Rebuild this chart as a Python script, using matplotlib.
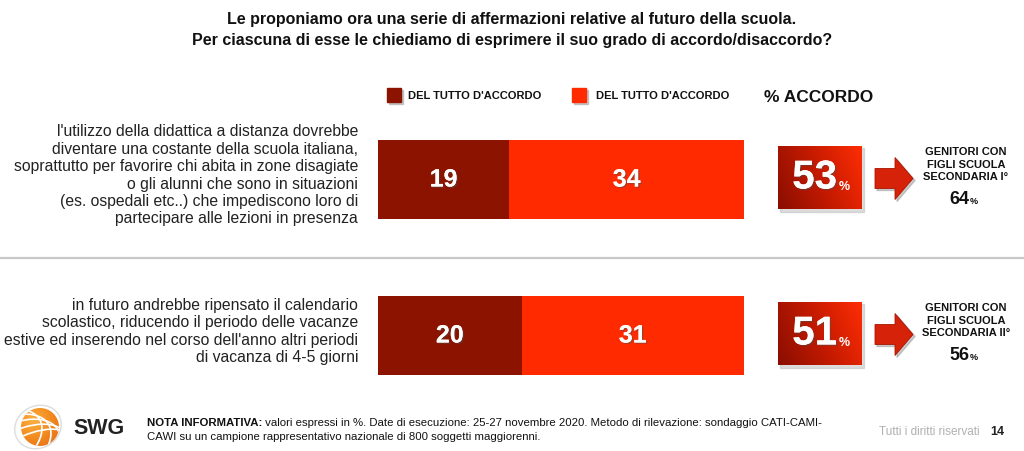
import numpy as np
import matplotlib
matplotlib.use("Agg")
import matplotlib.pyplot as plt
import matplotlib.patheffects as pe
from matplotlib.patches import Rectangle, Polygon, Circle, Ellipse

plt.rcParams['font.family'] = ['Liberation Sans', 'DejaVu Sans']

title = ("Le proponiamo ora una serie di affermazioni relative al futuro della scuola.\n"
         "Per ciascuna di esse le chiediamo di esprimere il suo grado di accordo/disaccordo?")
statements = [
    "l'utilizzo della didattica a distanza dovrebbe\n"
    "diventare una costante della scuola italiana,\n"
    "soprattutto per favorire chi abita in zone disagiate\n"
    "o gli alunni che sono in situazioni\n"
    "(es. ospedali etc..) che impediscono loro di\n"
    "partecipare alle lezioni in presenza",
    "in futuro andrebbe ripensato il calendario\n"
    "scolastico, riducendo il periodo delle vacanze\n"
    "estive ed inserendo nel corso dell'anno altri periodi\n"
    "di vacanza di 4-5 giorni",
]
series_names = ["DEL TUTTO D'ACCORDO", "DEL TUTTO D'ACCORDO"]
totally_agree = np.array([19, 20])
agree = np.array([34, 31])
total_agree = np.array([53, 51])
subgroups = ["GENITORI CON\nFIGLI SCUOLA\nSECONDARIA I°",
             "GENITORI CON\nFIGLI SCUOLA\nSECONDARIA II°"]
subgroup_values = [64, 56]

dark = "#8c1300"
bright = "#ff2a00"

W, H = 1024, 451
fig = plt.figure(figsize=(W / 100, H / 100), dpi=100)
fig.patch.set_facecolor("white")

# background axes in pixel units (y downwards)
bg = fig.add_axes([0, 0, 1, 1])
bg.set_xlim(0, W)
bg.set_ylim(H, 0)
bg.axis("off")

# bars axes
x0, x1 = 378, 744
ytop, ybot = 101.5, 413.5
ax = fig.add_axes([x0 / W, 1 - ybot / H, (x1 - x0) / W, (ybot - ytop) / H])
ax.set_xlim(0, 1)
ax.set_ylim(1.5, -0.5)
ax.axis("off")

pos = np.arange(len(statements))
share1 = totally_agree / total_agree
share2 = agree / total_agree
ax.barh(pos, share1, height=0.51, color=dark, edgecolor="none")
ax.barh(pos, share2, left=share1, height=0.51, color=bright, edgecolor="none")
shadow = [pe.withSimplePatchShadow(offset=(1, -1), alpha=0.45), pe.Normal()]
for i in pos:
    ax.text(share1[i] / 2, i, str(totally_agree[i]), color="white", fontsize=18,
            fontweight="bold", ha="center", va="center", path_effects=shadow)
    ax.text(share1[i] + share2[i] / 2, i, str(agree[i]), color="white", fontsize=18,
            fontweight="bold", ha="center", va="center", path_effects=shadow)

# title
bg.text(512, 30, title, ha="center", va="center", fontsize=11.5, fontweight="bold",
        linespacing=1.45, color="#111111")

# legend
bg.add_patch(Rectangle((389, 90), 14, 14, color="#999999", alpha=0.5))
bg.add_patch(Rectangle((387, 88), 14, 14, color=dark))
bg.text(408, 96, series_names[0], fontsize=8, fontweight="bold", va="center", color="#111111")
bg.add_patch(Rectangle((574, 90), 14, 14, color="#999999", alpha=0.5))
bg.add_patch(Rectangle((572, 88), 14, 14, color=bright))
bg.text(596, 96, series_names[1], fontsize=8, fontweight="bold", va="center", color="#111111")
bg.text(764, 98, "% ACCORDO", fontsize=12.5, fontweight="bold", va="center", color="#111111")

# separator
bg.plot([0, W], [258, 258], color="#c8c8c8", lw=1.6)

# row centers in pixels
row_y = [H - ax.transData.transform((0, p))[1] for p in pos]

yy, xx = np.mgrid[0:1:100j, 0:1:100j]
grad = 0.75 * xx + 0.25 * (1 - yy)
cmap = matplotlib.colors.LinearSegmentedColormap.from_list("r", ["#8a0e00", "#c41a00", "#ff2d05"])

for i, cy in enumerate(row_y):
    # label
    bg.text(358, cy - 4, statements[i], ha="right", va="center", fontsize=11.3,
            linespacing=1.2, color="#222222")
    # percent box
    bx0, bx1, by0, by1 = 778, 862, cy - 34, cy + 30
    bg.add_patch(Rectangle((bx0 + 2, by0 + 2), bx1 - bx0, by1 - by0, color="#bbbbbb", alpha=0.5))
    rect = Rectangle((bx0, by0), bx1 - bx0, by1 - by0, facecolor="none", edgecolor="none")
    bg.add_patch(rect)
    im = bg.imshow(grad, cmap=cmap, extent=[bx0, bx1, by1, by0], aspect="auto",
                   interpolation="bilinear", zorder=2)
    im.set_clip_path(rect)
    t = bg.text(837, cy - 2, str(total_agree[i]), color="white", fontsize=29,
                fontweight="bold", ha="right", va="center", zorder=3, path_effects=shadow)
    bg.annotate("%", xy=(1, 0.1), xycoords=t, xytext=(1, 0), textcoords="offset points",
                color="white", fontsize=9, fontweight="bold", va="bottom", zorder=3)
    # arrow
    ay = cy - 1
    pts = [(875, ay - 10), (895, ay - 10), (895, ay - 21), (913, ay),
           (895, ay + 21), (895, ay + 10), (875, ay + 10)]
    bg.add_patch(Polygon([(x + 2, y + 2) for x, y in pts], color="#999999", alpha=0.5))
    bg.add_patch(Polygon(pts, facecolor="#d62208", edgecolor="#a81400", lw=0.6))
    # subgroup text
    bg.text(966, cy - 15, subgroups[i], ha="center", va="center", fontsize=8,
            fontweight="bold", linespacing=1.3, color="#111111")
    s = bg.text(969, cy + 20, str(subgroup_values[i]), ha="right", va="center",
                fontsize=13, fontweight="bold", color="#111111")
    bg.annotate("%", xy=(1, 0.1), xycoords=s, xytext=(0.5, 0), textcoords="offset points",
                fontsize=6.5, fontweight="bold", va="bottom", color="#111111")

# footer logo: orange sphere with white stripes
lx, ly, lr = 40, 427, 19
bg.add_patch(Ellipse((lx - 2, ly), 2 * lr + 10, 2 * lr + 4, angle=-30, fill=False,
                     edgecolor="#dddddd", lw=1.0))
sphere = Circle((lx, ly), lr, facecolor="none", edgecolor="none")
bg.add_patch(sphere)
gy, gx = np.mgrid[-1:1:80j, -1:1:80j]
rad = np.sqrt((gx + 0.35) ** 2 + (gy + 0.35) ** 2)
ocmap = matplotlib.colors.LinearSegmentedColormap.from_list("o", ["#fbb040", "#f28a1e", "#e2661a"])
sim = bg.imshow(rad, cmap=ocmap, extent=[lx - lr, lx + lr, ly + lr, ly - lr],
                interpolation="bilinear", zorder=2)
sim.set_clip_path(sphere)
for k in range(-2, 3):
    st = Ellipse((lx + 9 * k - 30, ly + 5 * k + 30), 110, 60, angle=-30, fill=False,
                 edgecolor="white", lw=1.2, zorder=3)
    bg.add_patch(st)
    st.set_clip_path(sphere)
bg.set_xlim(0, W)
bg.set_ylim(H, 0)
bg.text(73, 429, "SWG", fontsize=15.5, fontweight="bold", va="center", color="#222222")

n = bg.text(147, 423, "NOTA INFORMATIVA:", fontsize=8.2, fontweight="bold", va="center",
            color="#111111")
bg.annotate(" valori espressi in %. Date di esecuzione: 25-27 novembre 2020. "
            "Metodo di rilevazione: sondaggio CATI-CAMI-", xy=(1, 0), xycoords=n,
            va="bottom", fontsize=8.2, color="#111111")
bg.text(147, 437, "CAWI su un campione rappresentativo nazionale di 800 soggetti maggiorenni.",
        fontsize=8.2, va="center", color="#111111")
bg.text(980, 432, "Tutti i diritti riservati", fontsize=8.5, ha="right", va="center",
        color="#b0b0b0")
bg.text(990, 432, "14", fontsize=9, fontweight="bold", va="center", color="#222222")

fig.savefig("out.png", dpi=100, facecolor="white")
